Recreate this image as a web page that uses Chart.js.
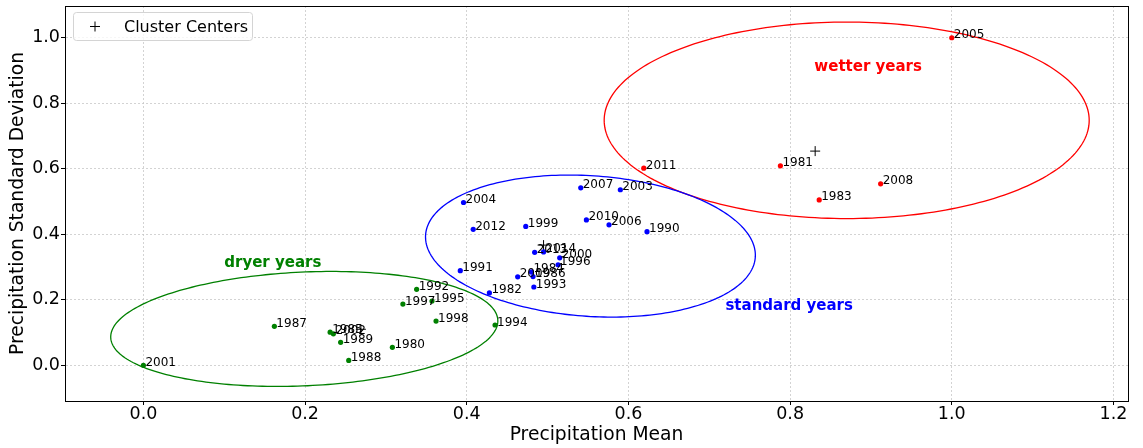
<!DOCTYPE html>
<html>
<head>
<meta charset="utf-8">
<script src="https://cdn.jsdelivr.net/npm/chart.js@4.4.1/dist/chart.umd.min.js"></script>
<style>
  html, body { margin: 0; padding: 0; background: #fff; }
  #wrap { width: 1143px; height: 448px; }
</style>
</head>
<body>
<div id="wrap"><canvas id="clusterChart"></canvas></div>
<script>
// ----------- data -----------
const wetYears = [2005, 2011, 1981, 1983, 2008];
const wetMean = [1.0, 0.619, 0.788, 0.836, 0.912];
const wetStd = [1.0, 0.602, 0.609, 0.505, 0.554];

const stdYears = [2007, 2003, 2004, 2012, 1999, 2010, 2006, 1990, 2013, 2014, 2000, 1996, 1984, 2009, 1986, 1993, 1991, 1982];
const stdMean = [0.541, 0.590, 0.396, 0.408, 0.473, 0.548, 0.576, 0.623, 0.484, 0.495, 0.515, 0.513, 0.480, 0.463, 0.482, 0.483, 0.392, 0.428];
const stdStd = [0.542, 0.536, 0.497, 0.415, 0.424, 0.444, 0.429, 0.408, 0.345, 0.346, 0.328, 0.307, 0.285, 0.270, 0.271, 0.239, 0.289, 0.221];

const dryYears = [1987, 1992, 1997, 1995, 1998, 1994, 1980, 1988, 1989, 1985, 2002, 2001];
const dryMean = [0.162, 0.338, 0.321, 0.357, 0.362, 0.435, 0.308, 0.254, 0.244, 0.231, 0.235, 0.0];
const dryStd = [0.119, 0.232, 0.187, 0.196, 0.135, 0.123, 0.055, 0.015, 0.070, 0.101, 0.096, 0.0];

const centerMean = [0.831, 0.495, 0.269];
const centerStd = [0.654, 0.367, 0.110];

// ellipse outlines (data units, matplotlib style: full width/height, angle in degrees)
const ellipseX = [0.870, 0.553, 0.199];
const ellipseY = [0.748, 0.364, 0.111];
const ellipseW = [0.600, 0.450, 0.484];
const ellipseH = [0.600, 0.390, 0.344];
const ellipseAngle = [0, 122.3, 11.9];
const ellipseColors = ["#ff0000", "#0000ff", "#008000"];

const groupNames = ["wetter years", "standard years", "dryer years"];
const groupNameX = [0.83, 0.72, 0.10];
const groupNameY = [0.90, 0.17, 0.30];

const xTicks = [0.0, 0.2, 0.4, 0.6, 0.8, 1.0, 1.2];
const yTicks = [0.0, 0.2, 0.4, 0.6, 0.8, 1.0];

const FONT = "'DejaVu Sans', sans-serif";
Chart.defaults.font.family = FONT;
Chart.defaults.color = "#000";

function toPoints(xs, ys) {
  return xs.map((x, i) => ({ x, y: ys[i] }));
}

// ----------- plugins -----------
const ellipsePlugin = {
  id: "ellipses",
  afterDatasetsDraw(chart) {
    const { ctx, scales: { x, y } } = chart;
    ctx.save();
    ctx.lineWidth = 1.3;
    for (let k = 0; k < ellipseX.length; k++) {
      const a = ellipseW[k] / 2, b = ellipseH[k] / 2;
      const th = ellipseAngle[k] * Math.PI / 180;
      ctx.strokeStyle = ellipseColors[k];
      ctx.beginPath();
      for (let s = 0; s <= 240; s++) {
        const t = (s / 240) * Math.PI * 2;
        const dx = a * Math.cos(t), dy = b * Math.sin(t);
        const px = x.getPixelForValue(ellipseX[k] + dx * Math.cos(th) - dy * Math.sin(th));
        const py = y.getPixelForValue(ellipseY[k] + dx * Math.sin(th) + dy * Math.cos(th));
        if (s === 0) ctx.moveTo(px, py); else ctx.lineTo(px, py);
      }
      ctx.closePath();
      ctx.stroke();
    }
    ctx.restore();
  },
};

const yearLabelPlugin = {
  id: "yearLabels",
  afterDatasetsDraw(chart) {
    const { ctx } = chart;
    ctx.save();
    ctx.font = "12px " + FONT;
    ctx.fillStyle = "#000";
    ctx.textAlign = "left";
    ctx.textBaseline = "alphabetic";
    chart.data.datasets.forEach((ds, di) => {
      if (!ds.years) return;
      chart.getDatasetMeta(di).data.forEach((pt, i) => {
        ctx.fillText(String(ds.years[i]), pt.x + 2, pt.y + 0.5);
      });
    });
    ctx.restore();
  },
};

const decorPlugin = {
  id: "decor",
  afterDraw(chart) {
    const { ctx, chartArea: ca, scales: { x, y } } = chart;
    ctx.save();
    // group names
    ctx.font = "bold 15px " + FONT;
    ctx.textAlign = "left";
    ctx.textBaseline = "alphabetic";
    groupNames.forEach((name, k) => {
      ctx.fillStyle = ellipseColors[k];
      ctx.fillText(name, x.getPixelForValue(groupNameX[k]), y.getPixelForValue(groupNameY[k]));
    });

    // frame
    ctx.strokeStyle = "#000";
    ctx.lineWidth = 1;
    ctx.strokeRect(Math.round(ca.left) + 0.5, Math.round(ca.top) + 0.5,
      Math.round(ca.right - ca.left), Math.round(ca.bottom - ca.top));

    // legend box
    const lx = 73.5, ly = 12.5, lw = 179, lh = 28;
    ctx.beginPath();
    ctx.roundRect(lx, ly, lw, lh, 3);
    ctx.fillStyle = "rgba(255,255,255,0.8)";
    ctx.fill();
    ctx.strokeStyle = "#d4d4d4";
    ctx.stroke();
    ctx.strokeStyle = "#000";
    ctx.beginPath();
    ctx.moveTo(90, 26.5); ctx.lineTo(100, 26.5);
    ctx.moveTo(95, 21.5); ctx.lineTo(95, 31.5);
    ctx.stroke();
    ctx.fillStyle = "#000";
    ctx.font = "16px " + FONT;
    ctx.fillText("Cluster Centers", 124, 31.5);
    ctx.restore();
  },
};

function noPad(s) {
  s.paddingTop = 0;
  s.paddingBottom = 0;
  s.paddingLeft = 0;
  s.paddingRight = 0;
}

// ----------- chart -----------
const ctx = document.getElementById("clusterChart").getContext("2d");
new Chart(ctx, {
  type: "scatter",
  data: {
    datasets: [
      {
        label: "wetter",
        data: toPoints(wetMean, wetStd),
        years: wetYears,
        backgroundColor: "#ff0000",
        pointRadius: 2.6,
        borderWidth: 0,
      },
      {
        label: "standard",
        data: toPoints(stdMean, stdStd),
        years: stdYears,
        backgroundColor: "#0000ff",
        pointRadius: 2.6,
        borderWidth: 0,
      },
      {
        label: "dryer",
        data: toPoints(dryMean, dryStd),
        years: dryYears,
        backgroundColor: "#008000",
        pointRadius: 2.6,
        borderWidth: 0,
      },
      {
        label: "Cluster Centers",
        data: toPoints(centerMean, centerStd),
        pointStyle: "cross",
        pointRadius: 5,
        borderColor: "#000",
        borderWidth: 1,
      },
    ],
  },
  options: {
    animation: false,
    responsive: true,
    maintainAspectRatio: false,
    devicePixelRatio: 1,
    events: [],
    layout: { padding: { top: 3, right: 15, left: 0, bottom: 0 } },
    plugins: {
      legend: { display: false },
      tooltip: { enabled: false },
    },
    scales: {
      x: {
        type: "linear",
        min: -0.097,
        max: 1.218,
        afterBuildTicks: (s) => { s.ticks = xTicks.map((v) => ({ value: v })); },
        afterFit: (s) => { s.height = 47; noPad(s); },
        ticks: {
          font: { size: 17.5 },
          color: "#000",
          padding: -1,
          maxRotation: 0,
          callback: (v) => Number(v).toFixed(1),
        },
        grid: { color: "#c8c8c8", lineWidth: 0.8, tickLength: 4, tickColor: "#000", tickWidth: 1 },
        border: { display: true, color: "#000", width: 1, dash: [2, 2] },
        title: {
          display: true,
          text: "Precipitation Mean",
          font: { size: 18.7, lineHeight: 1.2 },
          color: "#000",
          padding: { top: 0, bottom: 2 },
        },
      },
      y: {
        type: "linear",
        min: -0.109,
        max: 1.097,
        afterBuildTicks: (s) => { s.ticks = yTicks.map((v) => ({ value: v })); },
        afterFit: (s) => { s.width = 65; noPad(s); },
        ticks: {
          font: { size: 17.5 },
          color: "#000",
          padding: 1,
          callback: (v) => Number(v).toFixed(1),
        },
        grid: { color: "#c8c8c8", lineWidth: 0.8, tickLength: 4, tickColor: "#000", tickWidth: 1 },
        border: { display: true, color: "#000", width: 1, dash: [2, 2] },
        title: {
          display: true,
          text: "Precipitation Standard Deviation",
          font: { size: 18.7, lineHeight: 1.2 },
          color: "#000",
          padding: { top: 7, bottom: 0 },
        },
      },
    },
  },
  plugins: [ellipsePlugin, yearLabelPlugin, decorPlugin],
});
</script>
</body>
</html>
